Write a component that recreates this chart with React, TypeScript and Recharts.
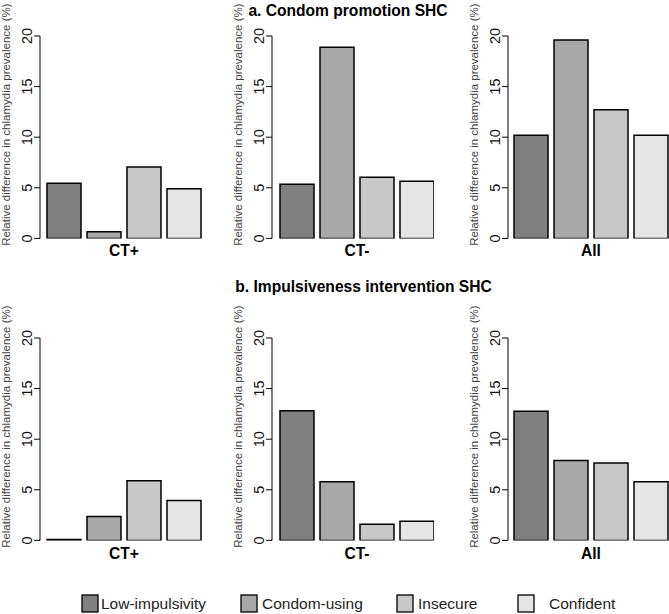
import React from "react";
import { BarChart, Bar, XAxis, YAxis } from "recharts";

const categories = ["Low-impulsivity", "Condom-using", "Insecure", "Confident"];
const groups = ["CT+", "CT-", "All"];
const yTicks = [0, 5, 10, 15, 20];

// a. Condom promotion SHC
const condomCTpos = [5.45, 0.65, 7.05, 4.9];
const condomCTneg = [5.35, 18.9, 6.05, 5.65];
const condomAll = [10.2, 19.6, 12.7, 10.2];

// b. Impulsiveness intervention SHC
const impulsCTpos = [0.1, 2.35, 5.9, 3.95];
const impulsCTneg = [12.8, 5.8, 1.6, 1.9];
const impulsAll = [12.75, 7.9, 7.65, 5.8];

const titles = ["a. Condom promotion SHC", "b. Impulsiveness intervention SHC"];
const yLabel = "Relative difference in chlamydia prevalence (%)";

const fills = ["#808080", "#a8a8a8", "#c8c8c8", "#e5e5e5"];
const FONT = "'Liberation Sans', Arial, sans-serif";

const toRow = (group: string, vals: number[]) => {
  const r: any = { group };
  vals.forEach((v, i) => (r["s" + i] = v));
  return [r];
};

const YTick = ({ x, y, payload }: any) => (
  <text
    x={x}
    y={y}
    transform={`rotate(-90 ${x} ${y})`}
    textAnchor="middle"
    fontSize={14.5}
    fill="#111"
  >
    {payload.value}
  </text>
);

const GroupTick = ({ x, y, payload, dy }: any) => (
  <text
    x={x}
    y={y + dy}
    textAnchor="middle"
    fontSize={15.6}
    fontWeight="bold"
    fill="#000"
  >
    {payload.value}
  </text>
);

const YLabel = ({ viewBox }: any) => {
  if (!viewBox) return null;
  const x = viewBox.x + viewBox.width - 30;
  const y = viewBox.y + viewBox.height / 2 - 12.5;
  return (
    <text
      x={x}
      y={y}
      transform={`rotate(-90 ${x} ${y})`}
      textAnchor="middle"
      fontSize={11.5}
      fill="#444"
    >
      {yLabel}
    </text>
  );
};

const Panel = ({ left, top, group, values, pad, labelDy }: any) => (
  <div style={{ position: "absolute", left, top }}>
    <BarChart
      width={202}
      height={268.4}
      data={toRow(group, values)}
      margin={{ top: 36, right: 0, bottom: 0, left: 0 }}
      barGap={6}
      barCategoryGap={0}
    >
      <XAxis
        dataKey="group"
        axisLine={false}
        tickLine={false}
        tickSize={0}
        tickMargin={0}
        height={30}
        interval={0}
        padding={{ left: pad, right: 8 - pad }}
        tick={<GroupTick dy={labelDy} />}
      />
      <YAxis
        type="number"
        domain={[0, 20]}
        ticks={yTicks}
        width={40}
        axisLine={{ stroke: "#000", strokeWidth: 1 }}
        tickLine={{ stroke: "#000" }}
        tickSize={6}
        tickMargin={2}
        tick={<YTick />}
        label={<YLabel />}
        allowDataOverflow
      />
      {categories.map((c, i) => (
        <Bar
          key={c}
          name={c}
          dataKey={"s" + i}
          fill={fills[i]}
          stroke="#000"
          strokeWidth={1.5}
          isAnimationActive={false}
        />
      ))}
    </BarChart>
  </div>
);

const legendBoxX = [82, 241, 397, 518];
const legendTextX = [101, 262, 418, 549];

export default function App() {
  return (
    <div
      style={{
        position: "absolute",
        left: 0,
        top: 0,
        width: 669,
        height: 614,
        background: "#fff",
        overflow: "hidden",
        fontFamily: FONT,
      }}
    >
      <Panel left={0} top={0} group={groups[0]} values={condomCTpos} pad={7} labelDy={17.5} />
      <Panel left={232} top={0} group={groups[1]} values={condomCTneg} pad={8} labelDy={17.5} />
      <Panel left={468} top={0} group={groups[2]} values={condomAll} pad={6} labelDy={17.5} />
      <Panel left={0} top={302} group={groups[0]} values={impulsCTpos} pad={7} labelDy={19} />
      <Panel left={232} top={302} group={groups[1]} values={impulsCTneg} pad={8} labelDy={19} />
      <Panel left={468} top={302} group={groups[2]} values={impulsAll} pad={6} labelDy={19} />
      <svg
        width={669}
        height={614}
        style={{ position: "absolute", left: 0, top: 0, pointerEvents: "none" }}
      >
        <text x={348} y={15.5} textAnchor="middle" fontSize={15.6} fontWeight="bold" fill="#000">
          {titles[0]}
        </text>
        <text x={363.5} y={292} textAnchor="middle" fontSize={15.6} fontWeight="bold" fill="#000">
          {titles[1]}
        </text>
        {categories.map((c, i) => (
          <g key={c}>
            <rect
              x={legendBoxX[i]}
              y={595}
              width={16}
              height={17}
              fill={fills[i]}
              stroke="#000"
              strokeWidth={1.3}
            />
            <text x={legendTextX[i]} y={608.5} fontSize={15.5} fill="#222">
              {c}
            </text>
          </g>
        ))}
      </svg>
    </div>
  );
}
